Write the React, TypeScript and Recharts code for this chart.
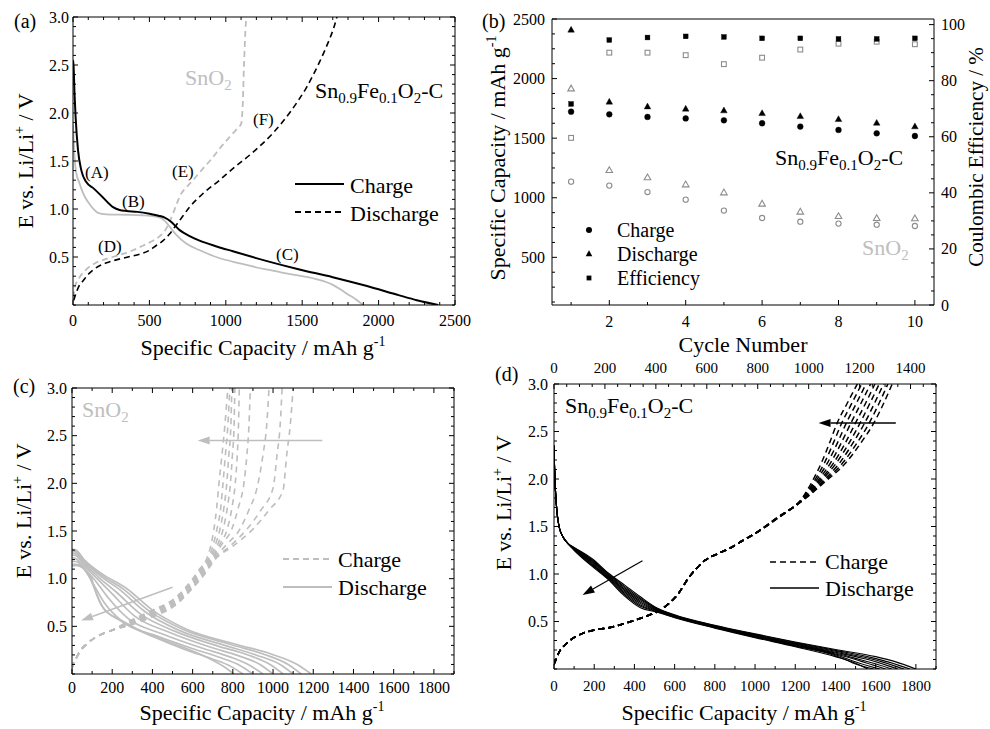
import React from 'react';
import { ComposedChart, Line, Scatter, XAxis, YAxis, ReferenceLine } from 'recharts';

const FONT = '"Liberation Serif", "Times New Roman", Times, serif';
const BLACK = '#000000';
const GRAY = '#bebebe';
const GRAY_MK = '#8c8c8c';

type Pt = [number, number];
const rows = (pts: Pt[]) => pts.map(([x, y]) => ({ x, y }));
const range = (a: number, b: number, s: number) => {
  const n = Math.round((b - a) / s);
  return Array.from({ length: n + 1 }, (_, i) => Math.round((a + i * s) * 1000) / 1000);
};

// ---------- (a) first charge / discharge ----------
const aChargeSnFe: Pt[] = [
  [0, 2.55], [4, 2.48], [10, 2.2], [17, 1.96], [33, 1.61], [55, 1.4], [87, 1.28], [131, 1.22],
  [196, 1.12], [262, 1.02], [305, 0.99], [350, 0.98], [420, 0.97], [501, 0.95], [560, 0.93],
  [600, 0.91], [640, 0.87], [698, 0.78], [760, 0.72], [828, 0.67], [940, 0.61], [1046, 0.56],
  [1264, 0.46], [1482, 0.37], [1700, 0.29], [1918, 0.2], [2136, 0.1], [2250, 0.05], [2390, 0],
];
const aChargeSnO2: Pt[] = [
  [0, 1.88], [5, 1.7], [12, 1.5], [22, 1.37], [40, 1.28], [55, 1.21], [80, 1.12], [109, 1.05],
  [140, 0.99], [163, 0.96], [218, 0.945], [350, 0.94], [450, 0.935], [545, 0.92], [580, 0.9],
  [610, 0.86], [640, 0.8], [676, 0.73], [741, 0.64], [830, 0.57], [937, 0.5], [1100, 0.43],
  [1264, 0.37], [1430, 0.32], [1591, 0.27], [1700, 0.21], [1744, 0.17], [1800, 0.11], [1850, 0.06], [1898, 0],
];
const aDischargeSnFe: Pt[] = [
  [5, 0.05], [17, 0.11], [40, 0.2], [65, 0.25], [100, 0.32], [153, 0.39], [220, 0.44], [283, 0.47],
  [360, 0.5], [436, 0.53], [500, 0.57], [545, 0.62], [590, 0.67], [632, 0.74], [665, 0.81], [698, 0.88],
  [763, 1.02], [850, 1.16], [959, 1.3], [1046, 1.42], [1177, 1.59], [1308, 1.79], [1417, 2.0],
  [1470, 2.12], [1526, 2.26], [1570, 2.39], [1613, 2.53], [1650, 2.66], [1679, 2.77], [1705, 2.88], [1727, 3.0],
];
const aDischargeSnO2: Pt[] = [
  [3, 0.08], [11, 0.18], [40, 0.28], [87, 0.37], [150, 0.44], [218, 0.48], [300, 0.52], [392, 0.57],
  [460, 0.62], [523, 0.67], [570, 0.72], [600, 0.77], [630, 0.86], [654, 0.95], [680, 1.06], [708, 1.16],
  [745, 1.23], [785, 1.3], [850, 1.42], [916, 1.54], [970, 1.65], [1025, 1.75], [1070, 1.83],
  [1101, 1.89], [1108, 2.0], [1112, 2.13], [1117, 2.4], [1123, 2.66], [1128, 2.85], [1134, 3.0],
];

// ---------- (b) cycling ----------
const cycles = [1, 2, 3, 4, 5, 6, 7, 8, 9, 10];
const bChargeSnFe = [1722, 1700, 1678, 1666, 1650, 1625, 1597, 1569, 1541, 1518];
const bDischargeSnFe = [2408, 1804, 1764, 1745, 1731, 1708, 1683, 1658, 1627, 1597];
const bEffSnFe = [71.7, 94.5, 95.4, 95.8, 95.6, 95.1, 95.1, 94.9, 94.9, 95.1];
const bChargeSnO2 = [1135, 1102, 1048, 984, 892, 830, 799, 783, 774, 763];
const bDischargeSnO2 = [1915, 1230, 1169, 1110, 1043, 948, 881, 844, 827, 825];
const bEffSnO2 = [59.6, 90.0, 90.0, 89.1, 85.9, 88.2, 91.1, 93.2, 93.9, 93.0];
const pair = (ys: number[]) => cycles.map((x, i) => ({ x, y: ys[i] }));

// ---------- (c) SnO2 cycles 2-10 ----------
const cDis2: Pt[] = [[0, 1.31], [20, 1.3], [60, 1.2], [150, 1.05], [270, 0.9], [400, 0.67], [570, 0.47], [820, 0.31], [990, 0.21], [1120, 0.1], [1190, 0]];
const cDis3: Pt[] = [[0, 1.3], [20, 1.29], [60, 1.19], [145, 1.04], [255, 0.89], [385, 0.66], [550, 0.47], [790, 0.31], [950, 0.21], [1075, 0.1], [1140, 0]];
const cDis4: Pt[] = [[0, 1.29], [20, 1.28], [60, 1.18], [140, 1.03], [240, 0.88], [365, 0.65], [530, 0.46], [760, 0.3], [915, 0.2], [1035, 0.1], [1100, 0]];
const cDis5: Pt[] = [[0, 1.27], [20, 1.26], [60, 1.16], [130, 1.02], [220, 0.86], [340, 0.63], [510, 0.45], [730, 0.29], [875, 0.2], [985, 0.1], [1050, 0]];
const cDis6: Pt[] = [[0, 1.25], [20, 1.24], [60, 1.14], [120, 1.01], [200, 0.84], [310, 0.61], [480, 0.44], [690, 0.28], [830, 0.19], [935, 0.1], [1000, 0]];
const cDis7: Pt[] = [[0, 1.22], [20, 1.21], [65, 1.1], [115, 0.98], [180, 0.8], [280, 0.58], [450, 0.42], [650, 0.27], [785, 0.18], [885, 0.09], [950, 0]];
const cDis8: Pt[] = [[0, 1.18], [20, 1.18], [70, 1.07], [110, 0.93], [160, 0.75], [250, 0.55], [420, 0.4], [610, 0.26], [740, 0.17], [835, 0.09], [900, 0]];
const cDis9: Pt[] = [[0, 1.15], [20, 1.15], [80, 1.05], [115, 0.88], [150, 0.71], [240, 0.56], [405, 0.39], [570, 0.25], [695, 0.16], [790, 0.08], [850, 0]];
const cDis10: Pt[] = [[0, 1.13], [20, 1.14], [90, 1.03], [125, 0.82], [160, 0.68], [240, 0.57], [400, 0.4], [490, 0.33], [655, 0.19], [760, 0.07], [805, 0]];
const cDischarge = [cDis2, cDis3, cDis4, cDis5, cDis6, cDis7, cDis8, cDis9, cDis10];

const cChgBase: Pt[] = [[0, 0.06], [5, 0.1], [15, 0.14], [40, 0.24], [70, 0.31], [140, 0.41], [200, 0.46]];
const cChg2: Pt[] = [...cChgBase, [270, 0.5], [390, 0.59], [520, 0.73], [600, 0.9], [650, 1.02], [720, 1.22], [800, 1.34], [900, 1.52], [980, 1.72], [1050, 1.93], [1068, 2.3], [1085, 2.6], [1100, 3.0]];
const cChg3: Pt[] = [...cChgBase, [270, 0.505], [390, 0.6], [520, 0.74], [600, 0.91], [648, 1.03], [715, 1.22], [785, 1.34], [870, 1.52], [940, 1.72], [1000, 1.95], [1020, 2.3], [1035, 2.6], [1045, 3.0]];
const cChg4: Pt[] = [...cChgBase, [270, 0.51], [390, 0.61], [520, 0.75], [600, 0.92], [646, 1.04], [710, 1.22], [770, 1.36], [835, 1.52], [880, 1.72], [920, 1.95], [950, 2.3], [968, 2.6], [980, 3.0]];
const cChg5: Pt[] = [...cChgBase, [270, 0.515], [390, 0.62], [520, 0.76], [600, 0.935], [644, 1.05], [705, 1.22], [745, 1.36], [795, 1.52], [828, 1.75], [855, 2.0], [870, 2.3], [880, 2.6], [887, 3.0]];
const cChg6: Pt[] = [...cChgBase, [270, 0.52], [390, 0.63], [520, 0.77], [600, 0.95], [642, 1.06], [700, 1.22], [735, 1.36], [772, 1.52], [796, 1.75], [812, 2.0], [822, 2.3], [828, 2.6], [832, 3.0]];
const cChg7: Pt[] = [...cChgBase, [270, 0.525], [390, 0.64], [520, 0.78], [600, 0.96], [640, 1.07], [692, 1.22], [725, 1.36], [752, 1.52], [773, 1.75], [788, 2.0], [798, 2.3], [806, 2.6], [810, 3.0]];
const cChg8: Pt[] = [...cChgBase, [270, 0.53], [390, 0.65], [520, 0.79], [600, 0.97], [638, 1.08], [686, 1.22], [714, 1.36], [736, 1.52], [756, 1.75], [770, 2.0], [780, 2.3], [790, 2.6], [795, 3.0]];
const cChg9: Pt[] = [...cChgBase, [270, 0.535], [390, 0.655], [520, 0.8], [600, 0.985], [636, 1.09], [680, 1.22], [703, 1.36], [721, 1.52], [740, 1.75], [751, 2.0], [763, 2.3], [775, 2.6], [785, 3.0]];
const cChg10: Pt[] = [...cChgBase, [270, 0.54], [390, 0.66], [520, 0.81], [600, 1.0], [634, 1.1], [672, 1.22], [692, 1.36], [706, 1.52], [720, 1.75], [731, 2.0], [746, 2.3], [760, 2.6], [775, 3.0]];
const cCharge = [cChg2, cChg3, cChg4, cChg5, cChg6, cChg7, cChg8, cChg9, cChg10];

// ---------- (d) Sn0.9Fe0.1O2-C cycles 2-10 ----------
const dDisBase: Pt[] = [[0, 2.35], [3, 2.1], [8, 1.85], [15, 1.65], [25, 1.5], [45, 1.39], [70, 1.32]];
const dDis2: Pt[] = [...dDisBase, [100, 1.28], [190, 1.16], [270, 1.01], [350, 0.885], [430, 0.76], [510, 0.645], [600, 0.57], [800, 0.46], [1000, 0.37], [1200, 0.285], [1400, 0.205], [1600, 0.13], [1700, 0.075], [1800, 0]];
const dDis3: Pt[] = [...dDisBase, [100, 1.276], [190, 1.15], [270, 1.0], [350, 0.87], [430, 0.745], [510, 0.64], [600, 0.566], [800, 0.456], [1000, 0.365], [1200, 0.279], [1400, 0.196], [1580, 0.12], [1670, 0.07], [1770, 0]];
const dDis4: Pt[] = [...dDisBase, [100, 1.273], [190, 1.14], [270, 0.993], [350, 0.856], [430, 0.731], [510, 0.634], [600, 0.563], [800, 0.453], [1000, 0.36], [1200, 0.272], [1400, 0.186], [1560, 0.115], [1640, 0.07], [1740, 0]];
const dDis5: Pt[] = [...dDisBase, [100, 1.269], [190, 1.13], [270, 0.984], [350, 0.842], [430, 0.717], [510, 0.628], [600, 0.559], [800, 0.449], [1000, 0.355], [1200, 0.266], [1400, 0.177], [1540, 0.11], [1610, 0.07], [1710, 0]];
const dDis6: Pt[] = [...dDisBase, [100, 1.265], [190, 1.12], [270, 0.975], [350, 0.828], [430, 0.703], [510, 0.623], [600, 0.555], [800, 0.445], [1000, 0.35], [1200, 0.26], [1400, 0.168], [1520, 0.1], [1580, 0.065], [1680, 0]];
const dDis7: Pt[] = [...dDisBase, [100, 1.261], [190, 1.11], [270, 0.966], [350, 0.813], [430, 0.688], [510, 0.617], [600, 0.551], [800, 0.441], [1000, 0.345], [1200, 0.254], [1400, 0.158], [1500, 0.1], [1550, 0.065], [1650, 0]];
const dDis8: Pt[] = [...dDisBase, [100, 1.258], [190, 1.1], [270, 0.958], [350, 0.799], [430, 0.674], [510, 0.611], [600, 0.548], [800, 0.438], [1000, 0.34], [1200, 0.247], [1400, 0.149], [1480, 0.09], [1520, 0.06], [1620, 0]];
const dDis9: Pt[] = [...dDisBase, [100, 1.254], [190, 1.09], [270, 0.949], [350, 0.784], [430, 0.66], [510, 0.606], [600, 0.544], [800, 0.434], [1000, 0.335], [1200, 0.241], [1400, 0.14], [1460, 0.09], [1490, 0.06], [1590, 0]];
const dDis10: Pt[] = [...dDisBase, [100, 1.25], [190, 1.08], [270, 0.94], [350, 0.77], [430, 0.645], [510, 0.6], [600, 0.54], [800, 0.43], [1000, 0.33], [1200, 0.235], [1400, 0.13], [1500, 0.06], [1560, 0]];
const dDischarge = [dDis2, dDis3, dDis4, dDis5, dDis6, dDis7, dDis8, dDis9, dDis10];

// charge curves of (d) read against the top capacity axis
const dChgBase: Pt[] = [[0, 0.05], [8, 0.1], [17, 0.16], [50, 0.27], [108, 0.37], [160, 0.41], [226, 0.44], [290, 0.49], [356, 0.55], [410, 0.61], [447, 0.68], [490, 0.8], [526, 0.95], [560, 1.06], [591, 1.14], [640, 1.21], [682, 1.26], [740, 1.35]];
const dChg2: Pt[] = [...dChgBase, [787, 1.42], [880, 1.59], [990, 1.8], [1064, 1.97], [1146, 2.17], [1205, 2.38], [1256, 2.59], [1295, 2.8], [1328, 3.0]];
const dChg3: Pt[] = [...dChgBase, [787, 1.42], [879, 1.59], [988, 1.8], [1058, 1.97], [1134, 2.17], [1190, 2.38], [1238, 2.59], [1277, 2.8], [1311, 3.0]];
const dChg4: Pt[] = [...dChgBase, [786, 1.42], [879, 1.59], [986, 1.8], [1052, 1.97], [1122, 2.17], [1174, 2.38], [1220, 2.59], [1259, 2.8], [1294, 3.0]];
const dChg5: Pt[] = [...dChgBase, [786, 1.42], [878, 1.59], [984, 1.8], [1045, 1.97], [1109, 2.17], [1159, 2.38], [1202, 2.59], [1241, 2.8], [1277, 3.0]];
const dChg6: Pt[] = [...dChgBase, [786, 1.42], [877, 1.59], [983, 1.8], [1039, 1.97], [1098, 2.17], [1144, 2.38], [1184, 2.59], [1224, 2.8], [1260, 3.0]];
const dChg7: Pt[] = [...dChgBase, [786, 1.42], [876, 1.59], [981, 1.8], [1033, 1.97], [1086, 2.17], [1128, 2.38], [1166, 2.59], [1206, 2.8], [1243, 3.0]];
const dChg8: Pt[] = [...dChgBase, [785, 1.42], [876, 1.59], [979, 1.8], [1026, 1.97], [1074, 2.17], [1113, 2.38], [1148, 2.59], [1188, 2.8], [1225, 3.0]];
const dChg9: Pt[] = [...dChgBase, [785, 1.42], [875, 1.59], [977, 1.8], [1020, 1.97], [1062, 2.17], [1097, 2.38], [1130, 2.59], [1170, 2.8], [1208, 3.0]];
const dChg10: Pt[] = [...dChgBase, [785, 1.42], [874, 1.59], [975, 1.8], [1013, 1.97], [1050, 2.17], [1082, 2.38], [1112, 2.59], [1152, 2.8], [1191, 3.0]];
const dCharge = [dChg2, dChg3, dChg4, dChg5, dChg6, dChg7, dChg8, dChg9, dChg10];

// ---------- ticks ----------
const voltTicks = [0.5, 1.0, 1.5, 2.0, 2.5, 3.0];
const voltMinor = range(0, 3, 0.1);
const capTicksA = [0, 500, 1000, 1500, 2000, 2500];
const capMinorA = range(0, 2500, 100);
const capTicksCD = [0, 200, 400, 600, 800, 1000, 1200, 1400, 1600, 1800];
const capMinorCD = range(0, 1900, 100);
const capTicksTop = [0, 200, 400, 600, 800, 1000, 1200, 1400];
const capMinorTop = range(0, 1500, 50);
const cycleTicks = [2, 4, 6, 8, 10];
const cycleMinor = range(1, 10, 1);
const capTicksB = [500, 1000, 1500, 2000, 2500];
const capMinorB = range(125, 2500, 125);
const effTicks = [0, 20, 40, 60, 80, 100];
const effMinor = range(0, 100, 5);

type Side = 'bottom' | 'top' | 'left' | 'right';
type AxisSpec = {
  domain: [number, number];
  minor: number[];
  major: number[];
  label: boolean;
  off: number;
  size: number;
  fmt?: (v: number) => string;
  fs?: number;
  none?: boolean;
};

function tickFn(side: Side, spec: AxisSpec) {
  const fmt = spec.fmt || ((v: number) => String(v));
  const fs = spec.fs || 16;
  return (p: any) => {
    const v = Number(p.payload.value);
    const major = spec.major.some((m) => Math.abs(m - v) < 1e-6);
    const len = major ? 5 : 3;
    const x = p.x;
    const y = p.y;
    let l: number[];
    let t: React.ReactNode = null;
    const tp = { fontFamily: FONT, fontSize: fs, fill: BLACK };
    if (side === 'bottom') {
      l = [x, y, x, y - len];
      if (spec.label && major) t = <text x={x} y={y + spec.off} textAnchor="middle" {...tp}>{fmt(v)}</text>;
    } else if (side === 'top') {
      l = [x, y, x, y + len];
      if (spec.label && major) t = <text x={x} y={y - spec.off} textAnchor="middle" {...tp}>{fmt(v)}</text>;
    } else if (side === 'left') {
      l = [x, y, x + len, y];
      if (spec.label && major) t = <text x={x - spec.off} y={y + 5.5} textAnchor="end" {...tp}>{fmt(v)}</text>;
    } else {
      l = [x, y, x - len, y];
      if (spec.label && major) t = <text x={x + spec.off} y={y + 5.5} textAnchor="start" {...tp}>{fmt(v)}</text>;
    }
    return (
      <g>
        <line x1={l[0]} y1={l[1]} x2={l[2]} y2={l[3]} stroke={BLACK} strokeWidth={1} />
        {t}
      </g>
    );
  };
}

function frameAxes(bottom: AxisSpec, top: AxisSpec, left: AxisSpec, right: AxisSpec) {
  const common = { allowDataOverflow: true, interval: 0 as const, tickSize: 0, tickMargin: 0, tickLine: false, axisLine: { stroke: BLACK, strokeWidth: 1 } };
  return [
    <XAxis key="xb" xAxisId="x" orientation="bottom" type="number" dataKey="x" domain={bottom.domain} ticks={bottom.minor} height={bottom.size} tick={tickFn('bottom', bottom)} {...common} />,
    <XAxis key="xt" xAxisId="xt" orientation="top" type="number" dataKey="x" domain={top.domain} ticks={top.none ? undefined : top.minor} height={top.size} tick={top.none ? false : tickFn('top', top)} {...common} />,
    <YAxis key="yl" yAxisId="y" orientation="left" type="number" domain={left.domain} ticks={left.minor} width={left.size} tick={tickFn('left', left)} {...common} />,
    <YAxis key="yr" yAxisId="yr" orientation="right" type="number" domain={right.domain} ticks={right.minor} width={right.size} tick={tickFn('right', right)} {...common} />,
  ];
}

const arrowShape = (color: string, w = 1.5) => (p: any) => {
  const x1 = Number(p.x1), y1 = Number(p.y1), x2 = Number(p.x2), y2 = Number(p.y2);
  const ang = Math.atan2(y2 - y1, x2 - x1);
  const L = 12;
  const H = 4;
  const bx = x2 - L * Math.cos(ang);
  const by = y2 - L * Math.sin(ang);
  const px = -Math.sin(ang) * H;
  const py = Math.cos(ang) * H;
  return (
    <g>
      <line x1={x1} y1={y1} x2={bx} y2={by} stroke={color} strokeWidth={w} />
      <polygon points={`${x2},${y2} ${bx + px},${by + py} ${bx - px},${by - py}`} fill={color} />
    </g>
  );
};

const marker = (kind: 'c' | 't' | 's', filled: boolean) => (p: any) => {
  const { cx, cy } = p;
  const fill = filled ? BLACK : '#ffffff';
  const stroke = filled ? BLACK : GRAY_MK;
  const sw = filled ? 0.4 : 1.1;
  if (kind === 'c') return <circle cx={cx} cy={cy} r={filled ? 2.9 : 2.6} fill={fill} stroke={stroke} strokeWidth={sw} />;
  if (kind === 't') return <polygon points={`${cx},${cy - 3.6} ${cx - 3.3},${cy + 2.2} ${cx + 3.3},${cy + 2.2}`} fill={fill} stroke={stroke} strokeWidth={sw} />;
  return <rect x={cx - 2.4} y={cy - 2.4} width={4.8} height={4.8} fill={fill} stroke={stroke} strokeWidth={sw} />;
};

const M0 = { top: 0, right: 0, bottom: 0, left: 0 };
const vFmt = (v: number) => v.toFixed(1);

function PanelA() {
  const xs: AxisSpec = { domain: [0, 2500], minor: capMinorA, major: capTicksA, label: true, off: 21, size: 30 };
  const ys: AxisSpec = { domain: [0, 3], minor: voltMinor, major: voltTicks, label: true, off: 4, size: 73, fmt: vFmt };
  return (
    <ComposedChart width={480} height={335} margin={M0}>
      {frameAxes(xs, { ...xs, label: false, size: 17 }, ys, { ...ys, label: false, size: 25 })}
      <Line xAxisId="x" yAxisId="y" data={rows(aChargeSnO2)} dataKey="y" type="monotone" stroke={GRAY} strokeWidth={1.8} dot={false} activeDot={false} isAnimationActive={false} />
      <Line xAxisId="x" yAxisId="y" data={rows(aDischargeSnO2)} dataKey="y" type="monotone" stroke={GRAY} strokeWidth={1.8} strokeDasharray="6 4" dot={false} activeDot={false} isAnimationActive={false} />
      <Line xAxisId="x" yAxisId="y" data={rows(aChargeSnFe)} dataKey="y" type="monotone" stroke={BLACK} strokeWidth={2} dot={false} activeDot={false} isAnimationActive={false} />
      <Line xAxisId="x" yAxisId="y" data={rows(aDischargeSnFe)} dataKey="y" type="monotone" stroke={BLACK} strokeWidth={1.6} strokeDasharray="6 4" dot={false} activeDot={false} isAnimationActive={false} />
    </ComposedChart>
  );
}

function PanelB() {
  const xs: AxisSpec = { domain: [0.5, 10.5], minor: cycleMinor, major: cycleTicks, label: true, off: 22, size: 30 };
  const ys: AxisSpec = { domain: [100, 2500], minor: capMinorB, major: capTicksB, label: true, off: 7, size: 57 };
  const rs: AxisSpec = { domain: [0, 102], minor: effMinor, major: effTicks, label: true, off: 7, size: 36 };
  return (
    <ComposedChart width={475} height={335} margin={M0}>
      {frameAxes(xs, { ...xs, label: false, size: 19, none: true }, ys, rs)}
      <Scatter xAxisId="x" yAxisId="y" data={pair(bDischargeSnO2)} dataKey="y" shape={marker('t', false)} isAnimationActive={false} />
      <Scatter xAxisId="x" yAxisId="y" data={pair(bChargeSnO2)} dataKey="y" shape={marker('c', false)} isAnimationActive={false} />
      <Scatter xAxisId="x" yAxisId="yr" data={pair(bEffSnO2)} dataKey="y" shape={marker('s', false)} isAnimationActive={false} />
      <Scatter xAxisId="x" yAxisId="y" data={pair(bDischargeSnFe)} dataKey="y" shape={marker('t', true)} isAnimationActive={false} />
      <Scatter xAxisId="x" yAxisId="y" data={pair(bChargeSnFe)} dataKey="y" shape={marker('c', true)} isAnimationActive={false} />
      <Scatter xAxisId="x" yAxisId="yr" data={pair(bEffSnFe)} dataKey="y" shape={marker('s', true)} isAnimationActive={false} />
    </ComposedChart>
  );
}

function PanelC() {
  const xs: AxisSpec = { domain: [0, 1900], minor: capMinorCD, major: capTicksCD, label: true, off: 19, size: 26 };
  const ys: AxisSpec = { domain: [0, 3], minor: voltMinor, major: voltTicks, label: true, off: 5, size: 72, fmt: vFmt };
  return (
    <ComposedChart width={480} height={335} margin={M0}>
      {frameAxes(xs, { ...xs, label: false, size: 23 }, ys, { ...ys, label: false, size: 26 })}
      {cDischarge.map((c, i) => (
        <Line key={`cd${i}`} xAxisId="x" yAxisId="y" data={rows(c)} dataKey="y" type="monotone" stroke={GRAY} strokeWidth={1.7} dot={false} activeDot={false} isAnimationActive={false} />
      ))}
      {cCharge.map((c, i) => (
        <Line key={`cc${i}`} xAxisId="x" yAxisId="y" data={rows(c)} dataKey="y" type="monotone" stroke={GRAY} strokeWidth={1.6} strokeDasharray="6 5" dot={false} activeDot={false} isAnimationActive={false} />
      ))}
      <ReferenceLine xAxisId="x" yAxisId="y" segment={[{ x: 1245, y: 2.45 }, { x: 625, y: 2.45 }]} shape={arrowShape(GRAY)} />
      <ReferenceLine xAxisId="x" yAxisId="y" segment={[{ x: 500, y: 0.91 }, { x: 45, y: 0.56 }]} shape={arrowShape(GRAY)} />
    </ComposedChart>
  );
}

function PanelD() {
  const xs: AxisSpec = { domain: [0, 1900], minor: capMinorCD, major: capTicksCD, label: true, off: 22, size: 31, fs: 15 };
  const ts: AxisSpec = { domain: [0, 1500], minor: capMinorTop, major: capTicksTop, label: true, off: 11, size: 29, fs: 15 };
  const ys: AxisSpec = { domain: [0, 3], minor: voltMinor, major: voltTicks, label: true, off: 6, size: 59, fmt: vFmt };
  return (
    <ComposedChart width={470} height={345} margin={M0}>
      {frameAxes(xs, ts, ys, { ...ys, label: false, size: 29 })}
      {dDischarge.map((c, i) => (
        <Line key={`dd${i}`} xAxisId="x" yAxisId="y" data={rows(c)} dataKey="y" type="monotone" stroke={BLACK} strokeWidth={1.1} dot={false} activeDot={false} isAnimationActive={false} />
      ))}
      {dCharge.map((c, i) => (
        <Line key={`dc${i}`} xAxisId="xt" yAxisId="y" data={rows(c)} dataKey="y" type="monotone" stroke={BLACK} strokeWidth={1.5} strokeDasharray="6 4" dot={false} activeDot={false} isAnimationActive={false} />
      ))}
      <ReferenceLine xAxisId="x" yAxisId="y" segment={[{ x: 1700, y: 2.59 }, { x: 1316, y: 2.59 }]} shape={arrowShape(BLACK)} />
      <ReferenceLine xAxisId="x" yAxisId="y" segment={[{ x: 440, y: 1.14 }, { x: 142, y: 0.78 }]} shape={arrowShape(BLACK, 1.2)} />
    </ComposedChart>
  );
}

// ---------- overlay text ----------
const tx = { fontFamily: FONT, fill: BLACK };

function SnFe({ x, y, fs = 22 }: { x: number; y: number; fs?: number }) {
  const s = Math.round(fs * 0.68);
  const d = fs * 0.22;
  return (
    <text x={x} y={y} fontSize={fs} {...tx}>
      Sn<tspan fontSize={s} dy={d}>0.9</tspan>
      <tspan dy={-d}>Fe</tspan>
      <tspan fontSize={s} dy={d}>0.1</tspan>
      <tspan dy={-d}>O</tspan>
      <tspan fontSize={s} dy={d}>2</tspan>
      <tspan dy={-d}>-C</tspan>
    </text>
  );
}

function SnO2({ x, y, fs = 22 }: { x: number; y: number; fs?: number }) {
  const s = Math.round(fs * 0.68);
  return (
    <text x={x} y={y} fontSize={fs} fontFamily={FONT} fill={GRAY}>
      SnO<tspan fontSize={s} dy={fs * 0.22}>2</tspan>
    </text>
  );
}

function CapTitle({ cx, y }: { cx: number; y: number }) {
  return (
    <text x={cx} y={y} fontSize={22} textAnchor="middle" {...tx}>
      Specific Capacity / mAh g<tspan fontSize={14} dy={-9}>-1</tspan>
    </text>
  );
}

function VoltTitle({ x, cy }: { x: number; cy: number }) {
  return (
    <text transform={`translate(${x},${cy}) rotate(-90)`} fontSize={22} textAnchor="middle" {...tx}>
      E vs. Li/Li<tspan fontSize={14} dy={-9}>+</tspan>
      <tspan dy={9}> / V</tspan>
    </text>
  );
}

function LegendLines({ x, y1, y2, color, firstDashed, w = 1.8 }: { x: number; y1: number; y2: number; color: string; firstDashed: boolean; w?: number }) {
  return (
    <g>
      <line x1={x} y1={y1} x2={x + 49} y2={y1} stroke={color} strokeWidth={w} strokeDasharray={firstDashed ? '6 4' : undefined} />
      <line x1={x} y1={y2} x2={x + 49} y2={y2} stroke={color} strokeWidth={w} strokeDasharray={firstDashed ? undefined : '6 4'} />
    </g>
  );
}

function Overlay() {
  return (
    <svg width={990} height={729} style={{ position: 'absolute', left: 0, top: 0, pointerEvents: 'none' }}>
      {/* panel letters */}
      <text x={14} y={28} fontSize={20} {...tx}>(a)</text>
      <text x={482} y={28} fontSize={20} {...tx}>(b)</text>
      <text x={13} y={393} fontSize={20} {...tx}>(c)</text>
      <text x={495} y={381} fontSize={20} {...tx}>(d)</text>

      {/* (a) */}
      <CapTitle cx={263} y={355} />
      <VoltTitle x={33} cy={161} />
      <SnO2 x={185} y={85} />
      <SnFe x={315} y={98} />
      <text x={85} y={178} fontSize={17} {...tx}>(A)</text>
      <text x={122} y={207} fontSize={17} {...tx}>(B)</text>
      <text x={276} y={260} fontSize={17} {...tx}>(C)</text>
      <text x={98} y={252} fontSize={17} {...tx}>(D)</text>
      <text x={172} y={177} fontSize={17} {...tx}>(E)</text>
      <text x={253} y={125} fontSize={17} {...tx}>(F)</text>
      <LegendLines x={295} y1={184} y2={212} color={BLACK} firstDashed={false} w={2} />
      <text x={350} y={193} fontSize={22} {...tx}>Charge</text>
      <text x={350} y={221} fontSize={22} {...tx}>Discharge</text>

      {/* (b) */}
      <text x={743} y={352} fontSize={22} textAnchor="middle" {...tx}>Cycle Number</text>
      <text transform="translate(505,158) rotate(-90)" fontSize={22} textAnchor="middle" {...tx}>
        Specific Capacity / mAh g<tspan fontSize={14} dy={-9}>-1</tspan>
      </text>
      <text transform="translate(983,157) rotate(-90)" fontSize={21} textAnchor="middle" {...tx}>Coulombic Efficiency / %</text>
      <SnFe x={775} y={165} />
      <SnO2 x={862} y={255} />
      <circle cx={589} cy={230} r={3} fill={BLACK} />
      <polygon points="589,250.3 585.7,256.2 592.3,256.2" fill={BLACK} />
      <rect x={586.6} y={275.6} width={4.8} height={4.8} fill={BLACK} />
      <text x={617} y={237} fontSize={20} {...tx}>Charge</text>
      <text x={617} y={261} fontSize={20} {...tx}>Discharge</text>
      <text x={617} y={285} fontSize={20} {...tx}>Efficiency</text>

      {/* (c) */}
      <CapTitle cx={262} y={720} />
      <VoltTitle x={31} cy={511} />
      <SnO2 x={82} y={417} />
      <LegendLines x={283} y1={559} y2={587} color={GRAY} firstDashed={true} />
      <text x={338} y={567} fontSize={22} {...tx}>Charge</text>
      <text x={338} y={595} fontSize={22} {...tx}>Discharge</text>

      {/* (d) */}
      <CapTitle cx={744} y={720} />
      <VoltTitle x={511} cy={503} />
      <SnFe x={565} y={413} />
      <LegendLines x={770} y1={562} y2={588} color={BLACK} firstDashed={true} w={1.6} />
      <text x={825} y={569} fontSize={22} {...tx}>Charge</text>
      <text x={825} y={596} fontSize={22} {...tx}>Discharge</text>
    </svg>
  );
}

export default function App() {
  return (
    <div style={{ position: 'absolute', left: 0, top: 0, width: 990, height: 729, background: '#ffffff', fontFamily: FONT, overflow: 'hidden' }}>
      <div style={{ position: 'absolute', left: 0, top: 0 }}>
        <PanelA />
      </div>
      <div style={{ position: 'absolute', left: 495, top: 0 }}>
        <PanelB />
      </div>
      <div style={{ position: 'absolute', left: 0, top: 365 }}>
        <PanelC />
      </div>
      <div style={{ position: 'absolute', left: 495, top: 355 }}>
        <PanelD />
      </div>
      <Overlay />
    </div>
  );
}
